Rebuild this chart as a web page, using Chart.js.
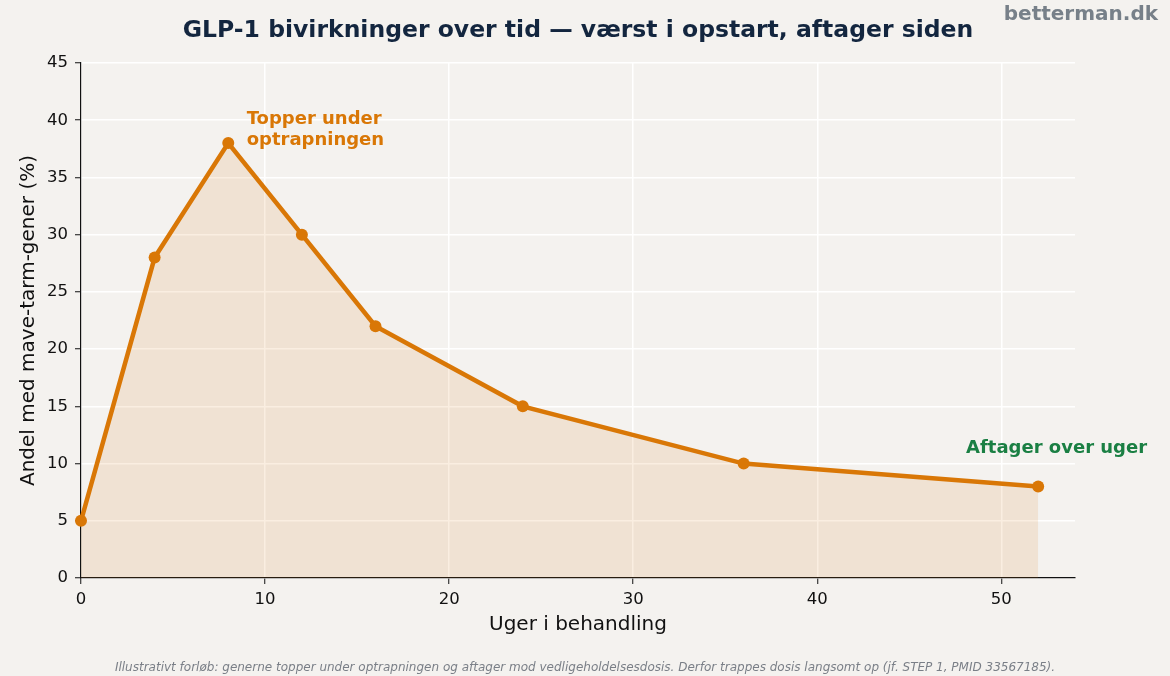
<!DOCTYPE html>
<html>
<head>
<meta charset="utf-8">
<script src="https://cdn.jsdelivr.net/npm/chart.js@4/dist/chart.umd.min.js"></script>
<style>
  html, body { margin: 0; padding: 0; background: #f4f2ef; }
  #wrap { width: 1170px; height: 676px; }
</style>
</head>
<body>
<div id="wrap"><canvas id="chart" width="1170" height="676"></canvas></div>
<script>
// uger og andel (%)
const weeks = [0, 4, 8, 12, 16, 24, 36, 52];
const giShare = [5, 28, 38, 30, 22, 15, 10, 8];

const titleText = 'GLP-1 bivirkninger over tid \u2014 v\u00e6rst i opstart, aftager siden';
const brandText = 'betterman.dk';
const xTitle = 'Uger i behandling';
const yTitle = 'Andel med mave-tarm-gener (%)';
const peakNote = ['Topper under', 'optrapningen'];
const tailNote = 'Aftager over uger';
const footNote = 'Illustrativt forl\u00f8b: generne topper under optrapningen og aftager mod vedligeholdelsesdosis. Derfor trappes dosis langsomt op (jf. STEP 1, PMID 33567185).';

const ORANGE = '#d97706';
const GREEN = '#1a7f43';
const NAVY = '#13263f';
const FONT = '"DejaVu Sans", sans-serif';

const points = weeks.map((w, i) => ({ x: w, y: giShare[i] }));

const textPlugin = {
  id: 'texts',
  beforeDraw(chart) {
    const c = chart.ctx;
    c.save();
    c.fillStyle = '#f4f2ef';
    c.fillRect(0, 0, chart.width, chart.height);
    c.restore();
  },
  afterDraw(chart) {
    const c = chart.ctx;
    const xs = chart.scales.x, ys = chart.scales.y;
    const area = chart.chartArea;
    c.save();
    c.textBaseline = 'middle';

    // titel
    c.fillStyle = NAVY;
    c.font = 'bold 23.5px ' + FONT;
    c.textAlign = 'center';
    c.fillText(titleText, 578, 31);

    // brand
    c.fillStyle = '#778089';
    c.font = 'bold 20px ' + FONT;
    c.textAlign = 'right';
    c.fillText(brandText, 1158, 15);

    // aksetitler
    c.fillStyle = '#111';
    c.font = '20px ' + FONT;
    c.textAlign = 'center';
    c.fillText(xTitle, (area.left + area.right) / 2, 625);
    c.save();
    c.translate(29, (area.top + area.bottom) / 2);
    c.rotate(-Math.PI / 2);
    c.fillText(yTitle, 0, 0);
    c.restore();

    // noter
    c.fillStyle = ORANGE;
    c.font = 'bold 18px ' + FONT;
    c.textAlign = 'left';
    c.fillText(peakNote[0], xs.getPixelForValue(9), ys.getPixelForValue(40.1));
    c.fillText(peakNote[1], xs.getPixelForValue(9), ys.getPixelForValue(38.2));

    c.fillStyle = GREEN;
    c.textAlign = 'center';
    c.fillText(tailNote, xs.getPixelForValue(53), ys.getPixelForValue(11.3));

    // fodnote
    c.fillStyle = '#7a7f87';
    c.font = 'italic 12px ' + FONT;
    c.fillText(footNote, 585, 668);
    c.restore();
  }
};

new Chart(document.getElementById('chart'), {
  type: 'line',
  data: {
    datasets: [{
      data: points,
      borderColor: ORANGE,
      backgroundColor: 'rgba(217,119,6,0.12)',
      borderWidth: 4.5,
      fill: 'origin',
      tension: 0,
      pointRadius: 6,
      pointBackgroundColor: ORANGE,
      pointBorderColor: ORANGE,
      pointBorderWidth: 0,
      clip: false
    }]
  },
  options: {
    responsive: false,
    animation: false,
    layout: { padding: { top: 63, right: 95, left: 0, bottom: 0 } },
    plugins: { legend: { display: false }, tooltip: { enabled: false }, title: { display: false } },
    scales: {
      x: {
        type: 'linear',
        min: 0, max: 54,
        afterFit(s) { s.height = 98; },
        ticks: { stepSize: 10, includeBounds: false, color: '#111', font: { family: FONT, size: 16.5 }, padding: 6, maxRotation: 0 },
        grid: { color: '#ffffff', lineWidth: 1.5, tickColor: '#111', tickLength: 6, tickWidth: 1 },
        border: { color: '#111', width: 1.2 }
      },
      y: {
        min: 0, max: 45,
        afterFit(s) { s.width = 81; },
        ticks: { stepSize: 5, color: '#111', font: { family: FONT, size: 16.5 }, padding: 7 },
        grid: { color: '#ffffff', lineWidth: 1.5, tickColor: '#111', tickLength: 6, tickWidth: 1 },
        border: { color: '#111', width: 1.2 }
      }
    }
  },
  plugins: [textPlugin]
});
</script>
</body>
</html>
